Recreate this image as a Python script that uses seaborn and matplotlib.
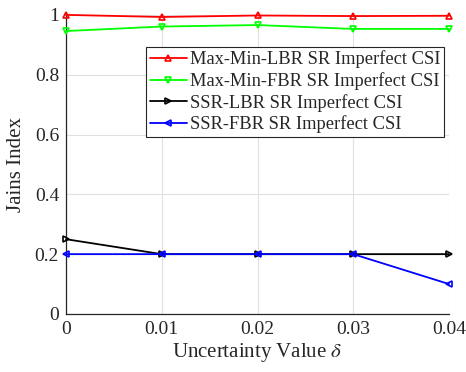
import numpy as np
import pandas as pd
import matplotlib
matplotlib.use("Agg")
import matplotlib.pyplot as plt
import seaborn as sns

delta = [0, 0.01, 0.02, 0.03, 0.04]
maxmin_lbr = [1.0, 0.993, 0.998, 0.996, 0.997]
maxmin_fbr = [0.946, 0.961, 0.966, 0.953, 0.953]
ssr_lbr = [0.25, 0.2, 0.2, 0.2, 0.2]
ssr_fbr = [0.2, 0.2, 0.2, 0.2, 0.1]
labels = ["Max-Min-LBR SR Imperfect CSI", "Max-Min-FBR SR Imperfect CSI",
          "SSR-LBR SR Imperfect CSI", "SSR-FBR SR Imperfect CSI"]
colors = ["#ff0000", "#00ff00", "#000000", "#0000ff"]
markers = ["^", "v", ">", "<"]

sns.set_style("white")
plt.rcParams['font.family'] = ['Liberation Serif', 'DejaVu Serif']
plt.rcParams['mathtext.fontset'] = 'stix'

fig = plt.figure(figsize=(4.66, 3.72), dpi=100)
ax = fig.add_axes([0.1416, 0.156, 0.822, 0.804])

series = [maxmin_lbr, maxmin_fbr, ssr_lbr, ssr_fbr]
for vals, lab, c, m in zip(series, labels, colors, markers):
    df = pd.DataFrame({"x": delta, "y": vals})
    sns.lineplot(data=df, x="x", y="y", ax=ax, color=c, marker=m, markersize=5,
                 markerfacecolor='none', markeredgecolor=c, markeredgewidth=1.2,
                 linewidth=1.3, label=lab, clip_on=False, zorder=3)

ax.set_xlim(0, 0.04)
ax.set_ylim(0, 1)
ax.set_xticks(delta)
ax.set_xticklabels(["0", "0.01", "0.02", "0.03", "0.04"])
ax.set_yticks([0, 0.2, 0.4, 0.6, 0.8, 1])
ax.set_yticklabels(["0", "0.2", "0.4", "0.6", "0.8", "1"])
ax.grid(True, color="#e0e0e0", linewidth=0.8)
ax.tick_params(axis='both', labelsize=14, colors="#262626", direction='in', length=3, pad=5)
for s in ["left", "bottom"]:
    ax.spines[s].set_color("#262626")
    ax.spines[s].set_linewidth(0.9)
ax.spines["top"].set_visible(False)
ax.spines["right"].set_visible(False)
ax.set_xlabel(r"Uncertainty Value $\delta$", fontsize=15, color="#262626", labelpad=2)
ax.set_ylabel("Jains Index", fontsize=15, color="#262626", labelpad=6)

leg = ax.legend(loc="upper right", bbox_to_anchor=(0.988, 0.893), fontsize=13.3,
                frameon=True, fancybox=False, framealpha=1, edgecolor="#262626",
                borderpad=0.2, labelspacing=0.2, handlelength=2.0, handletextpad=0.2,
                borderaxespad=0)
leg.get_frame().set_linewidth(0.8)

fig.savefig("out.png", dpi=100)
